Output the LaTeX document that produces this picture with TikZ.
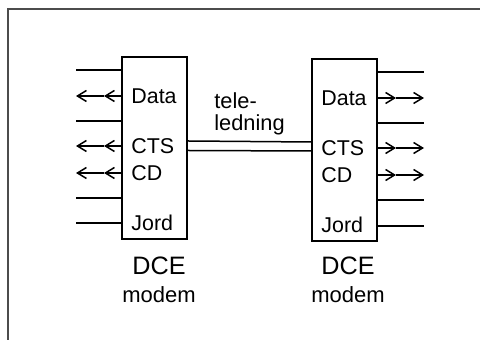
\documentclass[tikz,border=0pt]{standalone}
\usepackage{fontspec}
\setmainfont{Liberation Sans}
\usetikzlibrary{arrows.meta, positioning, calc}

\tikzset{
  modembox/.style={draw, line width=1pt, minimum width=32.5pt, minimum height=91pt, inner sep=0pt},
  wire/.style={line width=0.75pt},
  sig/.style={font=\fontsize{10.7}{12}\selectfont, inner sep=0pt, anchor=base west},
  title/.style={font=\fontsize{12.6}{14}\selectfont, inner sep=0pt},
  sub/.style={font=\fontsize{11}{13}\selectfont, inner sep=0pt}
}

\begin{document}
\begin{tikzpicture}[x=0.5pt, y=-0.5pt, >={Straight Barb[length=4.5pt, width=5.5pt]}]
  \useasboundingbox (0,0) rectangle (480,340);
  % ramme
  \draw[black!70, line width=1pt] (8,340) -- (8,9.5) -- (480,9.5);
  % modem bokse
  \node[modembox] (dceL) at (154.5,148) {};
  \node[modembox] (dceR) at (344.5,150) {};
  % venstre side ledninger
  \foreach \dy in {14,65,142,167}
    \draw[wire] (dceL.north west) ++(0,\dy) -- ++(-45,0);
  \foreach \dy in {40,90,117} {
    \draw[wire, ->] (dceL.north west) ++(0,\dy) -- ++(-17,0);
    \draw[wire, ->] (dceL.north west) ++(-17,\dy) -- ++(-28,0);
  }
  % hoejre side ledninger
  \foreach \dy in {14,65,142,168}
    \draw[wire] (dceR.north east) ++(0,\dy) -- ++(46,0);
  \foreach \dy in {40,90,117} {
    \draw[wire, ->] (dceR.north east) ++(0,\dy) -- ++(18,0);
    \draw[wire, ->] (dceR.north east) ++(18,\dy) -- ++(28,0);
  }
  % signalnavne
  \foreach \mbx in {dceL,dceR} {
    \node[sig] at ($(\mbx.north west)+(10,47.5)$) {Data};
    \node[sig] at ($(\mbx.north west)+(10,97.5)$) {CTS};
    \node[sig] at ($(\mbx.north west)+(10,124.5)$) {CD};
    \node[sig] at ($(\mbx.north west)+(10,174.5)$) {Jord};
  }
  % teleledning
  \draw[wire] ($(dceL.north east)+(0,85)$) -- ($(dceR.north west)+(0,84)$);
  \draw[wire] ($(dceL.north east)+(0,94.5)$) -- ($(dceR.north west)+(0,93)$);
  \node[sig, align=left, font=\fontsize{10.9}{11}\selectfont] (tele) at (214,131) {tele-\\ledning};
  % DCE tekster
  \node[title] (dceLt) at ($(dceL.south)+(4.5,26)$) {DCE};
  \node[sub, below=5.5pt of dceLt] {modem};
  \node[title] (dceRt) at ($(dceR.south)+(3.5,24)$) {DCE};
  \node[sub, below=5.5pt of dceRt] {modem};
\end{tikzpicture}
\end{document}
